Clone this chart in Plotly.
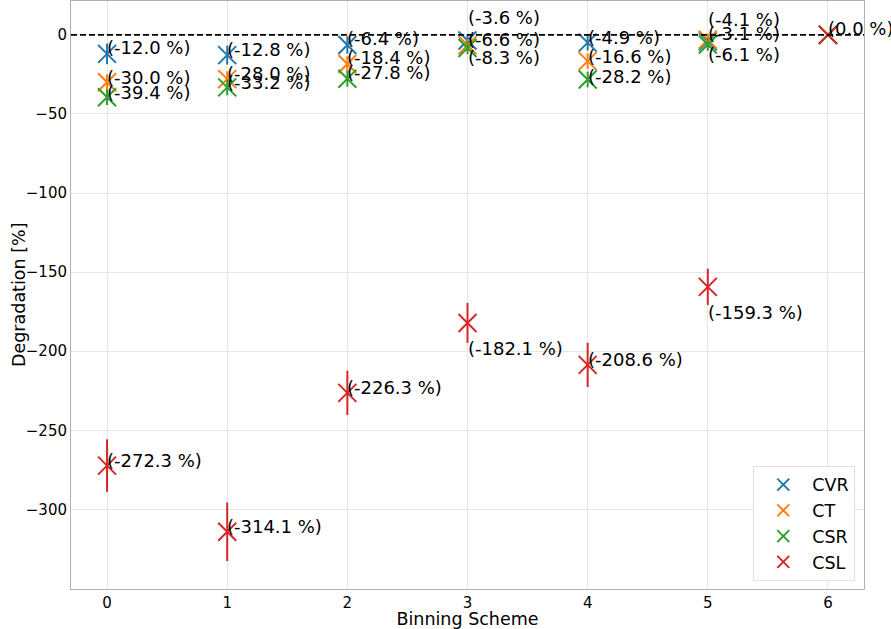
import plotly.graph_objects as go

schemes = [0, 1, 2, 3, 4, 5, 6]
series_names = ["CVR", "CT", "CSR", "CSL"]
cvr = [-12.0, -12.8, -6.4, -3.6, -4.9, -4.1, 0.0]
ct = [-30.0, -28.0, -18.4, -6.6, -16.6, -3.1, 0.0]
csr = [-39.4, -33.2, -27.8, -8.3, -28.2, -6.1, 0.0]
csl = [-272.3, -314.1, -226.3, -182.1, -208.6, -159.3, 0.0]
cvr_err = [6.5, 6.0, 5.5, 4.0, 5.0, 4.0, 0.0]
ct_err = [5.0, 5.0, 5.0, 4.0, 5.0, 4.0, 0.0]
csr_err = [5.0, 5.0, 5.0, 4.0, 5.0, 4.0, 0.0]
csl_err = [16.6, 18.5, 14.0, 12.6, 14.0, 11.5, 0.0]

colors = ["#1f77b4", "#ff7f0e", "#2ca02c", "#d62728"]
# label vertical offsets (px, positive = up), styling only; None = no label (coincident point)
label_shift = [
    [6, 6, 6, 23, 5, 22, None],
    [5, 6, 6, 6, 5, 6, None],
    [5, 5, 6, -10, 3, -10, None],
    [5, 5, 5, -26, 5, -26, 6],
]

values = [cvr, ct, csr, csl]
errors = [cvr_err, ct_err, csr_err, csl_err]

FONT = "DejaVu Sans"
fig = go.Figure()

for name, vals, errs, col in zip(series_names, values, errors, colors):
    fig.add_trace(go.Scatter(
        x=schemes, y=vals, name=name, mode="markers",
        marker=dict(symbol="x-thin", size=18, line=dict(color=col, width=2), color=col),
        error_y=dict(type="data", array=errs, visible=True, color=col, thickness=2, width=0),
    ))

annotations = []
for vals, shifts in zip(values, label_shift):
    for x, v, s in zip(schemes, vals, shifts):
        if s is None:
            continue
        annotations.append(dict(
            x=x, y=v, xref="x", yref="y", text=f"({v:.1f} %)", showarrow=False,
            xanchor="left", yanchor="middle", xshift=-2, yshift=s,
            font=dict(family=FONT, size=18, color="black"),
        ))

# y-axis title placed as a rotated annotation
annotations.append(dict(
    x=-0.0656, y=0.5, xref="paper", yref="paper", text="Degradation [%]",
    showarrow=False, textangle=-90, xanchor="center", yanchor="middle",
    font=dict(family=FONT, size=17.5, color="black"),
))

fig.add_shape(type="line", xref="paper", x0=0, x1=1, yref="y", y0=0, y1=0,
              line=dict(color="black", width=1.6, dash="6px,3px"), layer="above")

fig.update_layout(
    width=891, height=629,
    margin=dict(l=71, r=27, t=0, b=39),
    plot_bgcolor="white", paper_bgcolor="white",
    font=dict(family=FONT, color="black"),
    annotations=annotations,
    showlegend=True,
    legend=dict(
        x=0.989, y=0.014, xanchor="right", yanchor="bottom",
        bgcolor="white", bordercolor="#e0e0e0", borderwidth=1,
        font=dict(family=FONT, size=17.5, color="black"),
        itemsizing="constant", itemwidth=48,
    ),
    xaxis=dict(
        range=[-0.3, 6.3], tickvals=schemes, ticktext=[str(s) for s in schemes],
        showgrid=True, gridcolor="#e6e6e6", gridwidth=1, zeroline=False,
        showline=True, linecolor="#b0b0b0", linewidth=1, mirror=True,
        ticks="", tickfont=dict(family=FONT, size=15),
        title=dict(text="Binning Scheme", font=dict(family=FONT, size=17.5), standoff=5),
    ),
    yaxis=dict(
        range=[-350.3, 21.4], tickvals=[0, -50, -100, -150, -200, -250, -300],
        showgrid=True, gridcolor="#e6e6e6", gridwidth=1, zeroline=False,
        showline=True, linecolor="#b0b0b0", linewidth=1, mirror=True,
        ticks="", tickfont=dict(family=FONT, size=15),
    ),
)

fig.write_html("out.html")
